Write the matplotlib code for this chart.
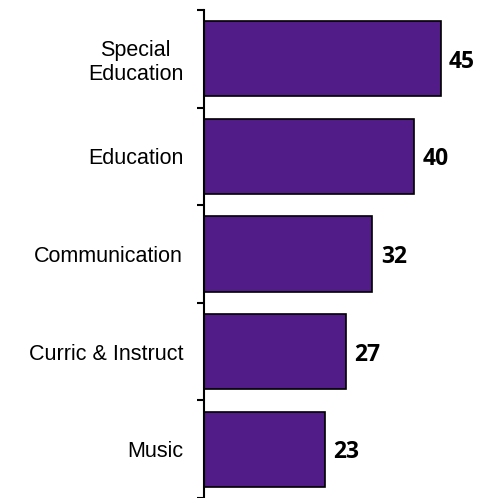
import matplotlib
matplotlib.use("Agg")
import matplotlib.pyplot as plt
import numpy as np

categories = ["Special\nEducation", "Education", "Communication", "Curric & Instruct", "Music"]
values = [45, 40, 32, 27, 23]

bar_color = "#521c88"

fig = plt.figure(figsize=(4.84, 4.98), dpi=100)
ax = fig.add_axes([204 / 484, 0.0, 263 / 484, 1 - 10 / 498])

y = np.arange(len(categories))
ax.barh(y, values, height=0.77, color=bar_color, edgecolor="black", linewidth=1.2, zorder=2)

for yi, v in zip(y, values):
    ax.text(v + 1.6, yi + 0.03, str(v), va="center", ha="left",
            fontsize=16.5, fontweight="bold", family=["Open Sans", "DejaVu Sans"])

ax.set_ylim(len(categories) - 0.5, -0.5)
ax.set_xlim(0, 50)

ax.set_yticks(y)
ax.set_yticklabels(categories, family=["Liberation Sans", "DejaVu Sans"], fontsize=15.5,
                   multialignment="center")
ax.tick_params(axis="y", which="major", length=0, pad=15)
ax.set_yticks(np.arange(-0.5, len(categories)), minor=True)
ax.tick_params(axis="y", which="minor", length=5, width=1.5, direction="out")

ax.set_xticks([])
for side in ("top", "right", "bottom"):
    ax.spines[side].set_visible(False)
ax.spines["left"].set_linewidth(1.5)

fig.savefig("out.png", dpi=100)
